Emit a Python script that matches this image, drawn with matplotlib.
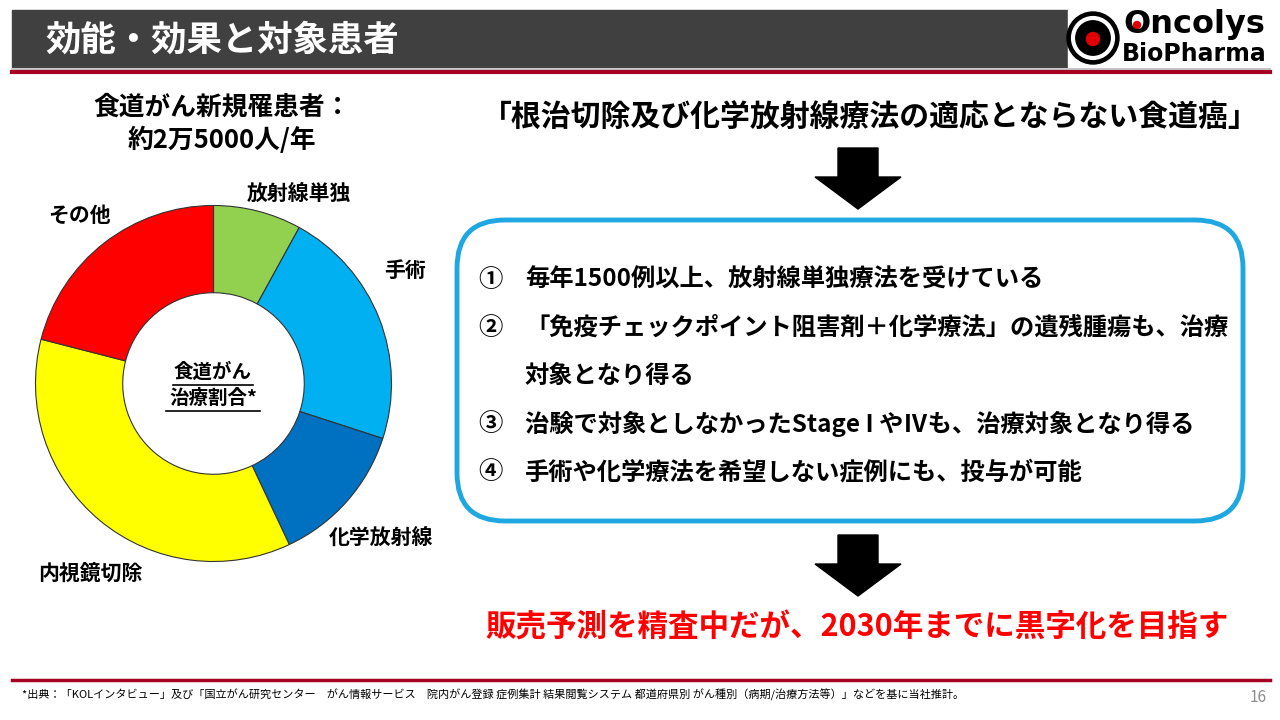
import matplotlib
matplotlib.use("Agg")
import matplotlib.pyplot as plt
from matplotlib import patches

plt.rcParams["font.family"] = ["Noto Sans CJK JP", "DejaVu Sans"]

# data read from the donut (share of treatment, %)
labels = ["放射線単独", "手術", "化学放射線", "内視鏡切除", "その他"]
shares = [8, 22, 13, 36, 21]
colors = ["#92D050", "#00B0F0", "#0070C0", "#FFFF00", "#FF0000"]

title = "効能・効果と対象患者"
left_head = ["食道がん新規罹患者：", "約2万5000人/年"]
right_head = "「根治切除及び化学放射線療法の適応とならない食道癌」"
box_items = [
    ("①", "毎年1500例以上、放射線単独療法を受けている"),
    ("②", "「免疫チェックポイント阻害剤＋化学療法」の遺残腫瘍も、治療"),
    ("", "対象となり得る"),
    ("③", "治験で対象としなかったStage I やⅣも、治療対象となり得る"),
    ("④", "手術や化学療法を希望しない症例にも、投与が可能"),
]
conclusion = "販売予測を精査中だが、2030年までに黒字化を目指す"
footnote = ("*出典：「KOLインタビュー」及び「国立がん研究センター　がん情報サービス　院内がん登録 症例集計 "
            "結果閲覧システム 都道府県別 がん種別（病期/治療方法等）」などを基に当社推計。")

fig = plt.figure(figsize=(12.8, 7.2), dpi=100)
fig.patch.set_facecolor("white")

# page-sized axes in pixel units
ax = fig.add_axes([0, 0, 1, 1])
ax.set_xlim(0, 1280)
ax.set_ylim(720, 0)
ax.axis("off")

# header
ax.add_patch(patches.Rectangle((12, 10), 1056, 57, color="#404040"))
ax.text(45, 40, title, color="white", fontsize=25.5, fontweight="bold", va="center")
ax.plot([12, 1270], [68.5, 68.5], color="#C8C8C8", lw=1.5)
ax.plot([12, 1270], [72, 72], color="#A50021", lw=3)

# logo
ax.add_patch(patches.Rectangle((1068, 10), 202, 57, color="white"))
ax.add_patch(patches.Circle((1093, 38), 26, color="black"))
ax.add_patch(patches.Circle((1093, 38), 20, fc="black", ec="white", lw=3))
ax.add_patch(patches.Circle((1093, 39), 6.5, color="#E00000"))
ax.text(1123, 24, "Oncolys", fontsize=23, fontweight="bold", va="center",
        family="DejaVu Sans")
ax.add_patch(patches.Circle((1137, 25), 3.5, color="#E00000"))
ax.text(1122, 54, "BioPharma", fontsize=17, fontweight="bold", va="center",
        family="DejaVu Sans")

# left heading
ax.text(222, 107, left_head[0], fontsize=18.5, fontweight="bold", ha="center", va="center")
ax.text(222, 140, left_head[1], fontsize=18.5, fontweight="bold", ha="center", va="center")

# right heading + arrows
ax.text(870, 118, right_head, fontsize=21.5, fontweight="bold", ha="center", va="center")


def down_arrow(cx, top, bottom):
    shaft_w, head_w, head_h = 40, 86, 32
    pts = [(cx - shaft_w / 2, top), (cx + shaft_w / 2, top),
           (cx + shaft_w / 2, bottom - head_h), (cx + head_w / 2, bottom - head_h),
           (cx, bottom), (cx - head_w / 2, bottom - head_h),
           (cx - shaft_w / 2, bottom - head_h)]
    ax.add_patch(patches.Polygon(pts, closed=True, color="black"))


down_arrow(858, 148, 209)
down_arrow(858, 535, 596)

# rounded box
ax.add_patch(patches.FancyBboxPatch((457, 220), 786, 301,
                                    boxstyle="round,pad=0,rounding_size=48",
                                    fc="white", ec="#1EA7E1", lw=3.5))
y_lines = [280, 328, 376, 424, 472]
for (num, txt), y in zip(box_items, y_lines):
    if num:
        ax.text(490, y, num, fontsize=17.5, fontweight="bold", ha="center", va="center")
    ax.text(525, y, txt, fontsize=17.5, fontweight="bold", va="center")

# conclusion
ax.text(857, 628, conclusion, fontsize=22, fontweight="bold", color="#FF0000",
        ha="center", va="center")

# footer
ax.plot([12, 1270], [680, 680], color="#A50021", lw=2.5)
ax.text(22, 695, footnote, fontsize=8, va="center")
ax.text(1258, 697, "16", fontsize=11, color="#8C8C8C", ha="center", va="center")

# donut
cx, cy, box = 213.5, 383.5, 400
pax = fig.add_axes([(cx - box / 2) / 1280, (720 - cy - box / 2) / 720, box / 1280, box / 720])
r_ext = box / 2 / 178
wedges, _ = pax.pie(shares, colors=colors, startangle=90, counterclock=False,
                    radius=1, wedgeprops=dict(width=0.49, edgecolor="#333333", linewidth=0.8))
pax.set_xlim(-r_ext, r_ext)
pax.set_ylim(-r_ext, r_ext)
pax.set_aspect("equal")
pax.axis("off")

label_pos = {"放射線単独": (299, 193), "手術": (405, 270), "化学放射線": (381, 537),
             "内視鏡切除": (90, 573), "その他": (80, 215)}
for lab in labels:
    x, y = label_pos[lab]
    ax.text(x, y, lab, fontsize=15, fontweight="bold", ha="center", va="center", zorder=5)

# centre caption (underlined)
ax.text(213, 372, "食道がん", fontsize=14, fontweight="bold", ha="center", va="center", zorder=5)
ax.text(213, 398, "治療割合*", fontsize=14, fontweight="bold", ha="center", va="center", zorder=5)
ax.plot([173, 253], [385, 385], color="black", lw=1.2, zorder=5)
ax.plot([166, 260], [411, 411], color="black", lw=1.2, zorder=5)
ax.set_zorder(1)
ax.patch.set_alpha(0)

fig.savefig("out.png", dpi=100)
